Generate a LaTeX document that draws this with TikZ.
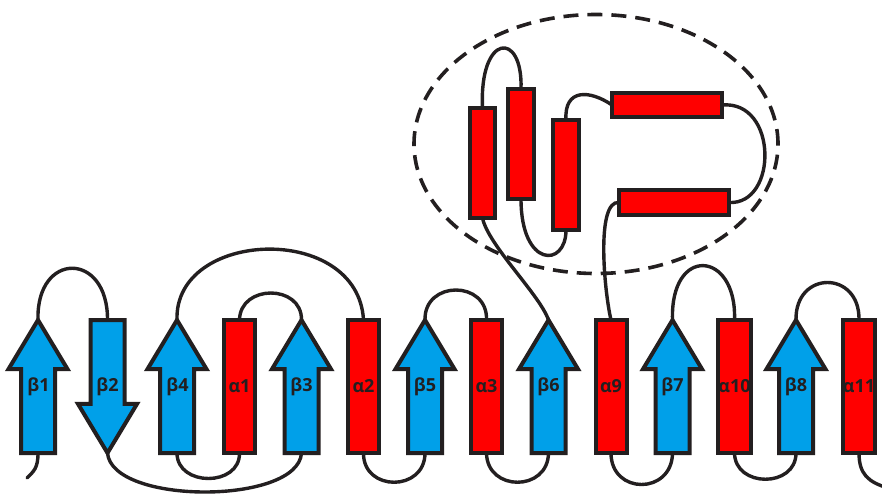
\documentclass[tikz,border=0pt]{standalone}
\usepackage{fontspec}
\setmainfont{Open Sans}
\usetikzlibrary{shapes.arrows}
\definecolor{ink}{HTML}{231F20}
\definecolor{hred}{HTML}{FF0000}
\definecolor{sblue}{HTML}{00A0E9}
\newcommand{\lblsize}{\fontsize{18}{21}\selectfont\bfseries}
\begin{document}
\begin{tikzpicture}[x=1pt,y=-1pt,
  conn/.style={draw=ink,line width=3.4pt,line cap=round},
  helixbox/.style={rectangle,draw=ink,fill=hred,line width=4pt,inner sep=0pt,outer sep=0pt,minimum width=31pt,minimum height=133pt,text=ink,font=\lblsize},
  dhelix/.style={rectangle,draw=ink,fill=hred,line width=4pt,inner sep=0pt,outer sep=0pt},
  strandarrow/.style={single arrow,draw=ink,fill=sblue,line width=4pt,inner xsep=0pt,inner ysep=15pt,outer sep=0pt,minimum height=133pt,minimum width=0pt,single arrow head extend=12.5pt,single arrow tip angle=62,line join=miter},
  lbl/.style={text=ink,font=\lblsize,inner sep=0pt}
]
\useasboundingbox (0,0) rectangle (882,493);

% ---- bottom row: strands (arrows) ----
\node[strandarrow,rotate=90,anchor=tail]  (b1) at (38,453) {};
\node[strandarrow,rotate=-90,anchor=tail] (b2) at (107.5,320) {};
\node[strandarrow,rotate=90,anchor=tail]  (b4) at (177,453) {};
\node[strandarrow,rotate=90,anchor=tail]  (b3) at (301.5,453) {};
\node[strandarrow,rotate=90,anchor=tail]  (b5) at (425,453) {};
\node[strandarrow,rotate=90,anchor=tail]  (b6) at (548.5,453) {};
\node[strandarrow,rotate=90,anchor=tail]  (b7) at (672.5,453) {};
\node[strandarrow,rotate=90,anchor=tail]  (b8) at (796,453) {};

\node[lbl] (b1l) at (38.5,387) {β1};
\node[lbl] (b2l) at (107.5,387) {β2};
\node[lbl] (b4l) at (177.5,387) {β4};
\node[lbl] (b3l) at (301.5,387) {β3};
\node[lbl] (b5l) at (425,387) {β5};
\node[lbl] (b6l) at (548.5,387) {β6};
\node[lbl] (b7l) at (672.5,387) {β7};
\node[lbl] (b8l) at (796,387) {β8};

% ---- bottom row: helices ----
\node[helixbox] (a1)  at (239.5,386.5) {α1};
\node[helixbox] (a2)  at (363.5,386.5) {α2};
\node[helixbox] (a3)  at (486.5,386.5) {α3};
\node[helixbox] (a9)  at (611,386.5) {α9};
\node[helixbox] (a10) at (734.5,386.5) {α10};
\node[helixbox] (a11) at (859,386.5) {α11};

% ---- domain helices ----
\node[dhelix,minimum width=25pt,minimum height=110pt] (h1) at (482.5,163) {};
\node[dhelix,minimum width=26pt,minimum height=110pt] (h2) at (521,144) {};
\node[dhelix,minimum width=26pt,minimum height=110pt] (h3) at (566,175) {};
\node[dhelix,minimum width=110pt,minimum height=24pt] (h4) at (667,105) {};
\node[dhelix,minimum width=110pt,minimum height=25pt] (h5) at (674,202.5) {};

\coordinate (s0) at (27,478);
\coordinate (e0) at (888,488);

% ---- connectors ----
\path[conn] (b1.tail) .. controls (38,468) and (34,471) .. (s0);
\path[conn] (b1.tip) .. controls (36,251) and (108,251) .. (b2.tail);
\path[conn] (b2.tip) .. controls (112,505) and (298,505) .. (b3.tail);
\path[conn] (b4.tail) .. controls (177,487) and (240,487) .. (a1.south);
\path[conn] (a1.north) .. controls (240,284) and (302,284) .. (b3.tip);
\path[conn] (b4.tip) .. controls (174,229) and (358,222) .. (a2.north);
\path[conn] (a2.south) .. controls (363,492) and (425,492) .. (b5.tail);
\path[conn] (b5.tip) .. controls (424,280) and (488,280) .. (a3.north);
\path[conn] (a3.south) .. controls (487,492) and (548,492) .. (b6.tail);
\path[conn] (b6.tip) .. controls (540,295) and (488,245) .. (h1.south);
\path[conn] (h1.north) .. controls (479,33) and (523,30) .. (h2.north);
\path[conn] (h2.south) .. controls (521,268) and (566,268) .. (h3.south);
\path[conn] (h3.north) .. controls (564,88) and (590,90) .. (h4.west);
\path[conn] (h4.east) .. controls (778,100) and (778,205) .. (h5.east);
\path[conn] (h5.west) .. controls (596,200) and (604,290) .. (a9.north);
\path[conn] (a9.south) .. controls (611,495) and (672,495) .. (b7.tail);
\path[conn] (b7.tip) .. controls (670,245) and (737,250) .. (a10.north);
\path[conn] (a10.south) .. controls (735,488) and (796,488) .. (b8.tail);
\path[conn] (b8.tip) .. controls (795,270) and (860,270) .. (a11.north);
\path[conn] (a11.south) .. controls (859,474) and (868,482) .. (e0);

% ---- domain outline ----
\draw[ink,line width=3.6pt,dash pattern=on 15pt off 9pt] (596,144) ellipse [x radius=182pt, y radius=129.5pt];
\end{tikzpicture}
\end{document}
